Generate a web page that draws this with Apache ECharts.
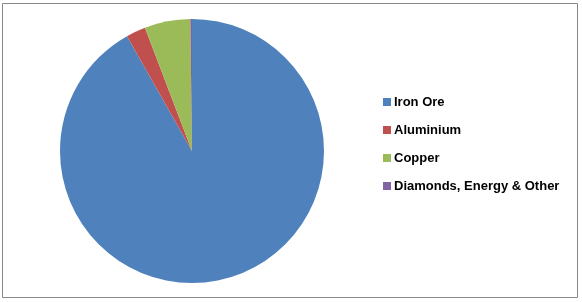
<!DOCTYPE html>
<html>
<head>
<meta charset="utf-8">
<script src="https://cdn.jsdelivr.net/npm/echarts@6/dist/echarts.min.js"></script>
<style>
html,body{margin:0;padding:0;background:#fff;}
#chart{width:582px;height:302px;}
</style>
</head>
<body>
<div id="chart"></div>
<script>
var categories = ['Iron Ore', 'Aluminium', 'Copper', 'Diamonds, Energy & Other'];
var values = [91.8, 2.4, 5.6, 0.2];
var colors = ['#4F81BD', '#C0504D', '#9BBB59', '#8064A2'];

var chart = echarts.init(document.getElementById('chart'), null, {renderer: 'canvas'});
chart.setOption({
  animation: false,
  backgroundColor: '#ffffff',
  color: colors,
  graphic: [{
    type: 'rect',
    shape: {x: 2.5, y: 3.5, width: 575, height: 294},
    style: {fill: 'none', stroke: '#888888', lineWidth: 1},
    silent: true
  }],
  legend: {
    orient: 'vertical',
    left: 383,
    top: 95,
    padding: 0,
    itemWidth: 8,
    itemHeight: 8,
    itemGap: 14,
    icon: 'rect',
    data: categories,
    textStyle: {
      fontFamily: 'Liberation Sans, Arial, sans-serif',
      fontSize: 13,
      fontWeight: 'bold',
      color: '#000',
      lineHeight: 14,
      padding: [0, 0, 0, -2]
    }
  },
  series: [{
    type: 'pie',
    center: [192, 151],
    radius: [0, 132],
    startAngle: 90,
    clockwise: true,
    label: {show: false},
    labelLine: {show: false},
    emphasis: {disabled: true},
    itemStyle: {borderWidth: 0},
    data: categories.map(function (c, i) { return {name: c, value: values[i]}; })
  }]
});
</script>
</body>
</html>
